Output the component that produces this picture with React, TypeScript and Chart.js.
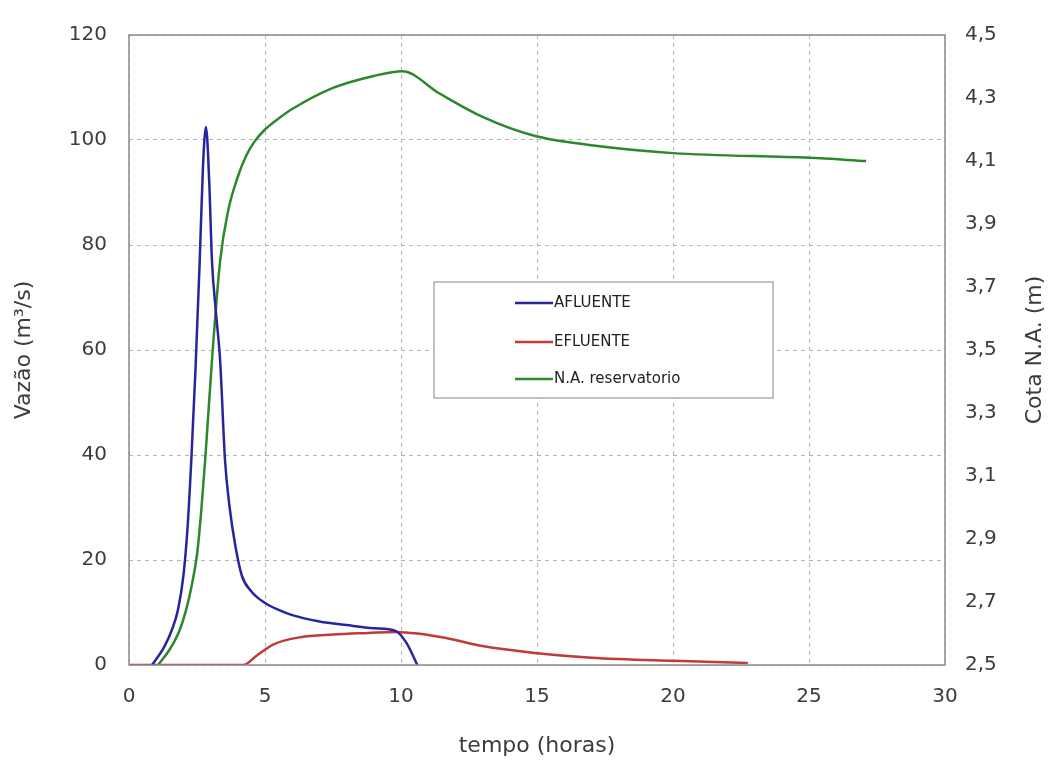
import React, { useEffect, useRef } from "react";
import { Chart, registerables } from "chart.js";

Chart.register(...registerables);

// ---- data ----
const afluenteTime = [0.85, 1.3, 1.6, 1.8, 2.0, 2.15, 2.3, 2.45, 2.6, 2.72, 2.83, 2.95, 3.05, 3.2, 3.35, 3.53, 3.7, 3.9, 4.15, 4.5, 5, 5.5, 6, 7, 8, 9, 9.8, 10.2, 10.6];
const afluenteVazao = [0, 3.5, 7, 10.5, 17, 26, 40, 57, 77, 95, 102.5, 92, 77, 67, 58, 39, 30, 23, 17, 14, 11.8, 10.5, 9.5, 8.3, 7.6, 7.0, 6.5, 4.2, 0];

const efluenteTime = [0, 4.2, 4.7, 5.3, 6.3, 7.5, 8.8, 9.8, 10.6, 11.7, 13, 14.9, 17, 20, 22.75];
const efluenteVazao = [0, 0, 1.8, 3.9, 5.3, 5.8, 6.1, 6.3, 6.0, 5.1, 3.6, 2.3, 1.4, 0.8, 0.4];

const nivelTime = [1.07, 1.5, 1.85, 2.1, 2.3, 2.5, 2.65, 2.8, 3.05, 3.35, 3.64, 4.0, 4.3, 4.6, 5.0, 5.5, 6, 7.5, 9, 10.05, 11.4, 13, 14.9, 17, 20, 25, 27.1];
const nivelCota = [2.5, 2.55, 2.608, 2.675, 2.75, 2.85, 2.983, 3.15, 3.467, 3.783, 3.94, 4.05, 4.115, 4.16, 4.2, 4.235, 4.265, 4.332, 4.37, 4.385, 4.315, 4.24, 4.18, 4.15, 4.125, 4.11, 4.1];

const seriesLabels = ["AFLUENTE", "EFLUENTE", "N.A. reservatorio"];
const seriesColors = ["#26269a", "#bf3a3a", "#2d872d"];

const xTitle = "tempo (horas)";
const yTitle = "Vazão (m³/s)";
const y1Title = "Cota N.A. (m)";

const xMin = 0, xMax = 30, xStep = 5;
const yMin = 0, yMax = 120, yStep = 20;
const y1Min = 2.5, y1Max = 4.5, y1Step = 0.2;

const toPoints = (xs: number[], ys: number[]) => xs.map((x, i) => ({ x, y: ys[i] }));

const TEXT_COLOR = "#3c3c3c";
const FONT = "'DejaVu Sans', 'Liberation Sans', Arial, sans-serif";

const decorPlugin = {
  id: "decor",
  afterDatasetsDraw(chart: any) {
    const { ctx, chartArea } = chart;
    const { left, top, right, bottom } = chartArea;
    ctx.save();
    ctx.strokeStyle = "#8a8a8a";
    ctx.lineWidth = 1.5;
    ctx.strokeRect(left, top, right - left, bottom - top);
    ctx.restore();
  },
  afterDraw(chart: any) {
    const { ctx, chartArea } = chart;
    // right axis title, reading bottom-to-top
    ctx.save();
    ctx.translate(1035, (chartArea.top + chartArea.bottom) / 2);
    ctx.rotate(-Math.PI / 2);
    ctx.fillStyle = TEXT_COLOR;
    ctx.font = `22px ${FONT}`;
    ctx.textAlign = "center";
    ctx.textBaseline = "middle";
    ctx.fillText(y1Title, 0, 0);
    ctx.restore();

    // legend box inside plot
    const bx = 434, by = 282, bw = 339, bh = 116;
    ctx.save();
    ctx.fillStyle = "#ffffff";
    ctx.fillRect(bx, by, bw, bh);
    ctx.strokeStyle = "#9a9a9a";
    ctx.lineWidth = 1.2;
    ctx.strokeRect(bx, by, bw, bh);
    const rows = [303, 342, 379];
    chart.data.datasets.forEach((ds: any, i: number) => {
      const y = rows[i];
      ctx.strokeStyle = ds.borderColor;
      ctx.lineWidth = 2.5;
      ctx.beginPath();
      ctx.moveTo(515, y);
      ctx.lineTo(553, y);
      ctx.stroke();
      ctx.fillStyle = "#222";
      ctx.font = `15px ${FONT}`;
      ctx.textAlign = "left";
      ctx.textBaseline = "middle";
      ctx.fillText(ds.label, 554, y);
    });
    ctx.restore();
  },
};

export default function App() {
  const canvasRef = useRef<HTMLCanvasElement | null>(null);

  useEffect(() => {
    document.body.style.margin = "0";
    const canvas = canvasRef.current;
    if (!canvas) return;

    const tickFont = { family: FONT, size: 20 };
    const titleFont = { family: FONT, size: 22 };

    const chart = new Chart(canvas, {
      type: "line",
      data: {
        datasets: [
          {
            label: seriesLabels[0],
            data: toPoints(afluenteTime, afluenteVazao),
            borderColor: seriesColors[0],
            borderWidth: 2.5,
            pointRadius: 0,
            cubicInterpolationMode: "monotone",
            yAxisID: "y",
          },
          {
            label: seriesLabels[1],
            data: toPoints(efluenteTime, efluenteVazao),
            borderColor: seriesColors[1],
            borderWidth: 2.5,
            pointRadius: 0,
            cubicInterpolationMode: "monotone",
            yAxisID: "y",
          },
          {
            label: seriesLabels[2],
            data: toPoints(nivelTime, nivelCota),
            borderColor: seriesColors[2],
            borderWidth: 2.5,
            pointRadius: 0,
            cubicInterpolationMode: "monotone",
            yAxisID: "y1",
          },
        ],
      },
      options: {
        animation: false,
        responsive: false,
        devicePixelRatio: 1,
        layout: { padding: { top: 35, left: 0, right: 0, bottom: 0 } },
        plugins: { legend: { display: false }, tooltip: { enabled: false } },
        scales: {
          x: {
            type: "linear",
            min: xMin,
            max: xMax,
            ticks: { stepSize: xStep, font: tickFont, color: TEXT_COLOR, padding: 20, maxRotation: 0 },
            grid: { color: "#b4b4b4", lineWidth: 1, drawTicks: false },
            border: { display: false, dash: [4, 4] },
            title: { display: true, text: xTitle, font: titleFont, color: TEXT_COLOR, padding: { top: 0, bottom: 3 } },
            afterFit: (s: any) => { s.height = 97; },
          },
          y: {
            type: "linear",
            position: "left",
            min: yMin,
            max: yMax,
            ticks: { stepSize: yStep, font: tickFont, color: TEXT_COLOR, padding: 22 },
            grid: { color: "#b4b4b4", lineWidth: 1, drawTicks: false },
            border: { display: false, dash: [4, 4] },
            title: { display: true, text: yTitle, font: titleFont, color: TEXT_COLOR, padding: { top: 11, bottom: 0 } },
            afterFit: (s: any) => { s.width = 129; },
          },
          y1: {
            type: "linear",
            position: "right",
            min: y1Min,
            max: y1Max,
            ticks: {
              stepSize: y1Step,
              font: tickFont,
              color: TEXT_COLOR,
              padding: 20,
              callback: (v: any) => Number(v).toFixed(1).replace(".", ","),
            },
            grid: { display: false, drawTicks: false },
            border: { display: false },
            afterFit: (s: any) => { s.width = 105; },
          },
        },
      },
      plugins: [decorPlugin],
    } as any);

    return () => chart.destroy();
  }, []);

  return (
    <div style={{ width: 1050, height: 762, background: "#fff" }}>
      <canvas ref={canvasRef} width={1050} height={762} style={{ display: "block", width: 1050, height: 762 }} />
    </div>
  );
}
